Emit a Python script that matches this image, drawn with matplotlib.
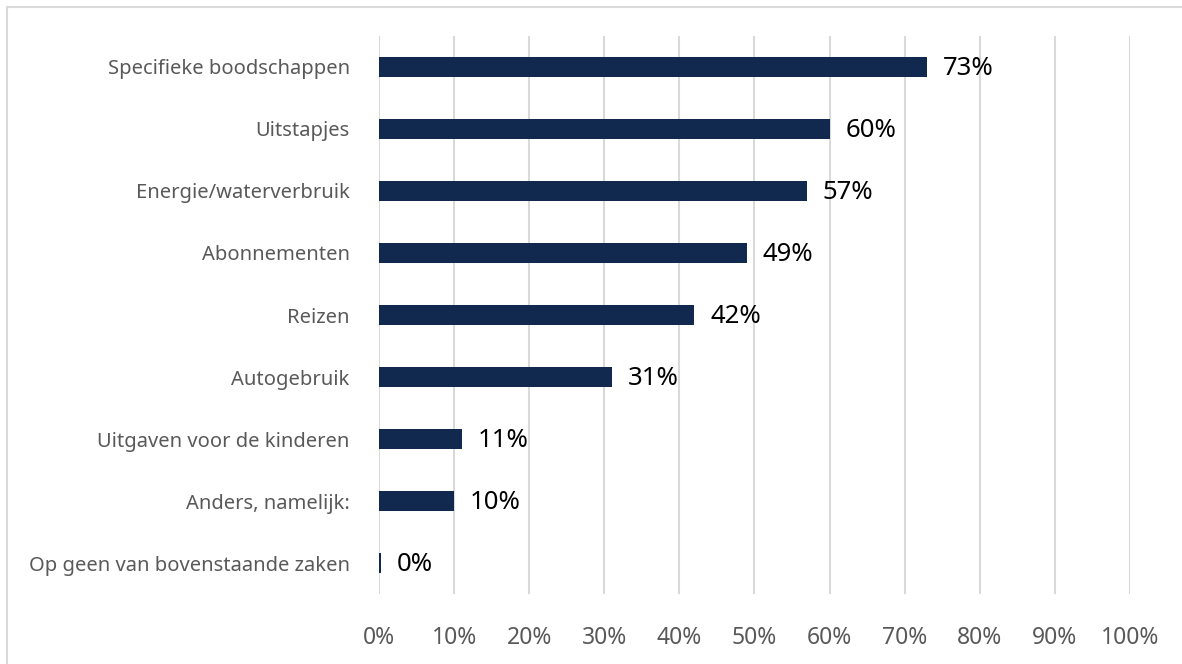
import matplotlib.pyplot as plt
from matplotlib.patches import Rectangle
from matplotlib.ticker import FuncFormatter

categories = [
    "Specifieke boodschappen",
    "Uitstapjes",
    "Energie/waterverbruik",
    "Abonnementen",
    "Reizen",
    "Autogebruik",
    "Uitgaven voor de kinderen",
    "Anders, namelijk:",
    "Op geen van bovenstaande zaken",
]
values = [73, 60, 57, 49, 42, 31, 11, 10, 0.3]
labels = ["73%", "60%", "57%", "49%", "42%", "31%", "11%", "10%", "0%"]
xticks = [0, 10, 20, 30, 40, 50, 60, 70, 80, 90, 100]

plt.rcParams['font.family'] = ['Noto Sans', 'DejaVu Sans']

fig = plt.figure(figsize=(11.82, 6.64), dpi=100)
ax = fig.add_axes([0.3206, 0.1054, 0.6354, 0.8404])

pos = list(range(len(categories)))
ax.barh(pos, values, height=0.33, color="#12294f", zorder=3)
for p, v, lab in zip(pos, values, labels):
    ax.text(v + 2.1, p + 0.03, lab, va="center", ha="left", fontsize=18.5, color="black")

ax.set_ylim(len(categories) - 0.5, -0.5)
ax.set_xlim(0, 100)
ax.set_yticks(pos)
ax.set_yticklabels(categories, fontsize=14.5, color="#595959")
ax.set_xticks(xticks)
ax.xaxis.set_major_formatter(FuncFormatter(lambda x, _: f"{int(x)}%"))
ax.tick_params(axis="x", labelsize=16.5, labelcolor="#595959", length=0, pad=23)
ax.tick_params(axis="y", length=0, pad=21)
ax.grid(axis="x", color="#d9d9d9", linewidth=1.5, zorder=0)
for s in ax.spines.values():
    s.set_visible(False)

# light frame along the top and left edges
fig.patches.append(Rectangle((7 / 1182, -0.1), 1.2, 1.1 - 7 / 664, transform=fig.transFigure,
                             fill=False, edgecolor="#d9d9d9", linewidth=1.5))

fig.savefig("out.png", dpi=100)
